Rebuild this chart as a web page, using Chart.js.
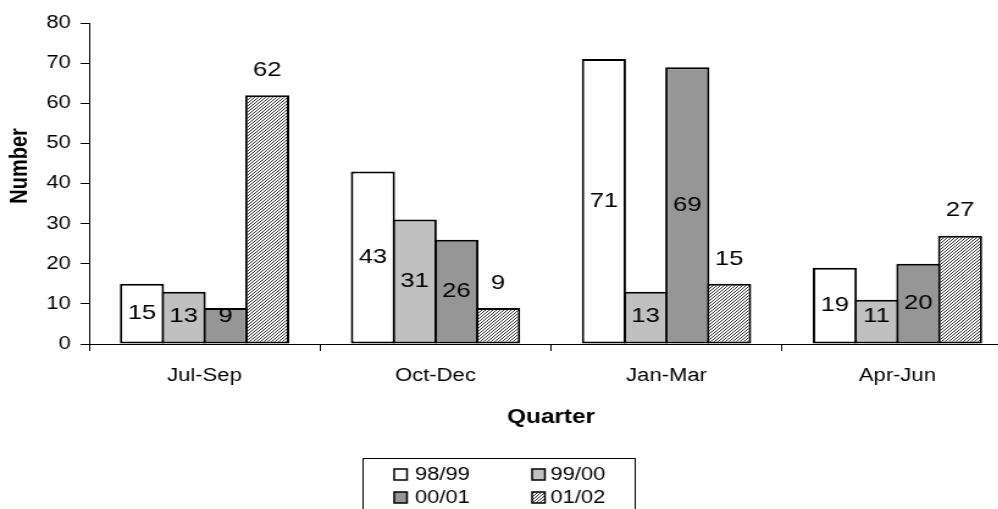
<!DOCTYPE html>
<html>
<head>
<meta charset="utf-8">
<script src="https://cdn.jsdelivr.net/npm/chart.js@4.4.1/dist/chart.umd.min.js"></script>
<style>
  html, body { margin: 0; padding: 0; background: #fff; overflow: hidden; }
</style>
</head>
<body>
<!-- the original chart is stretched sideways, so the canvas is too -->
<canvas id="chart" width="844" height="509" style="display:block;width:1030px;height:509px"></canvas>
<script>
const quarters = ["Jul-Sep", "Oct-Dec", "Jan-Mar", "Apr-Jun"];
const years = ["98/99", "99/00", "00/01", "01/02"];
const y9899 = [15, 43, 71, 19];
const y9900 = [13, 31, 13, 11];
const y0001 = [9, 26, 69, 20];
const y0102 = [62, 9, 15, 27];
const yMin = 0, yMax = 80, yStep = 10;

const FONT = "'Liberation Sans', Arial, sans-serif";

const canvas = document.getElementById("chart");
const ctx = canvas.getContext("2d");

// fine diagonal hatch like the excel pattern fill
function hatch() {
  const c = document.createElement("canvas");
  c.width = 3; c.height = 3;
  const h = c.getContext("2d");
  h.fillStyle = "#fff";
  h.fillRect(0, 0, 3, 3);
  h.fillStyle = "#333";
  for (let i = 0; i < 3; i++) h.fillRect(i, 2 - i, 1, 1);
  return ctx.createPattern(c, "repeat");
}

const valueLabels = {
  id: "valueLabels",
  afterDatasetsDraw(chart) {
    const c = chart.ctx;
    c.save();
    c.font = "21px " + FONT;
    c.fillStyle = "#000";
    c.textAlign = "center";
    c.textBaseline = "middle";
    chart.data.datasets.forEach((ds, di) => {
      chart.getDatasetMeta(di).data.forEach((bar, i) => {
        let y;
        if (ds.labelAbove) y = bar.y - 25;
        else y = Math.min((bar.y + bar.base) / 2, bar.base - 27);
        c.fillText(String(ds.data[i]), bar.x, y);
      });
    });
    c.restore();
  }
};

// y title sits a bit above the middle of the plot in the original
const yTitle = {
  id: "yTitle",
  afterDraw(chart) {
    const c = chart.ctx;
    c.save();
    c.translate(16, 166);
    c.rotate(-Math.PI / 2);
    c.font = "bold 20px " + FONT;
    c.fillStyle = "#000";
    c.textAlign = "center";
    c.textBaseline = "middle";
    c.fillText("Number", 0, 0);
    c.restore();
  }
};

const boxLegend = {
  id: "boxLegend",
  afterDraw(chart) {
    const c = chart.ctx;
    c.save();
    c.strokeStyle = "#000";
    c.lineWidth = 1;
    c.strokeRect(297.5, 458.5, 223, 60);
    c.font = "18px " + FONT;
    c.textBaseline = "middle";
    c.textAlign = "left";
    chart.data.datasets.forEach((ds, i) => {
      const col = i % 2, row = Math.floor(i / 2);
      const mx = col ? 436 : 323;
      const my = row ? 492 : 469;
      c.fillStyle = ds.backgroundColor;
      c.fillRect(mx, my, 10.5, 11);
      c.lineWidth = 1.5;
      c.strokeRect(mx, my, 10.5, 11);
      c.fillStyle = "#000";
      c.fillText(ds.label, col ? 451 : 340, my + 6);
    });
    c.restore();
  }
};

const fills = ["#ffffff", "#c0c0c0", "#969696", hatch()];
const series = [y9899, y9900, y0001, y0102];

new Chart(ctx, {
  type: "bar",
  data: {
    labels: quarters,
    datasets: series.map((vals, i) => ({
      label: years[i],
      data: vals,
      backgroundColor: fills[i],
      labelAbove: i === 3
    }))
  },
  options: {
    responsive: false,
    animation: false,
    layout: { padding: { top: 23, right: 14, left: 0, bottom: 0 } },
    datasets: {
      bar: {
        categoryPercentage: 0.723,
        barPercentage: 1.058,
        borderSkipped: false,
        borderWidth: 2,
        borderColor: "#000"
      }
    },
    plugins: {
      legend: { display: false },
      tooltip: { enabled: false }
    },
    scales: {
      x: {
        grid: { offset: true, drawOnChartArea: false, tickLength: 7, color: "#000" },
        border: { color: "#000", width: 1 },
        ticks: { color: "#000", padding: 14, font: { family: FONT, size: 18 } },
        title: {
          display: true,
          text: "Quarter",
          color: "#000",
          font: { family: FONT, size: 20, weight: "bold" },
          padding: { top: 0, bottom: 80 }
        },
        afterFit(scale) {
          scale.height = 165;
          scale.paddingLeft = 0;
          scale.paddingRight = 0;
        }
      },
      y: {
        min: yMin,
        max: yMax,
        ticks: { stepSize: yStep, color: "#000", padding: 8, font: { family: FONT, size: 18 } },
        grid: { drawOnChartArea: false, tickLength: 7, color: "#000" },
        border: { color: "#000", width: 1 },
        afterFit(scale) {
          scale.width = 73;
          scale.paddingTop = 0;
          scale.paddingBottom = 0;
        }
      }
    }
  },
  plugins: [valueLabels, yTitle, boxLegend]
});
</script>
</body>
</html>
